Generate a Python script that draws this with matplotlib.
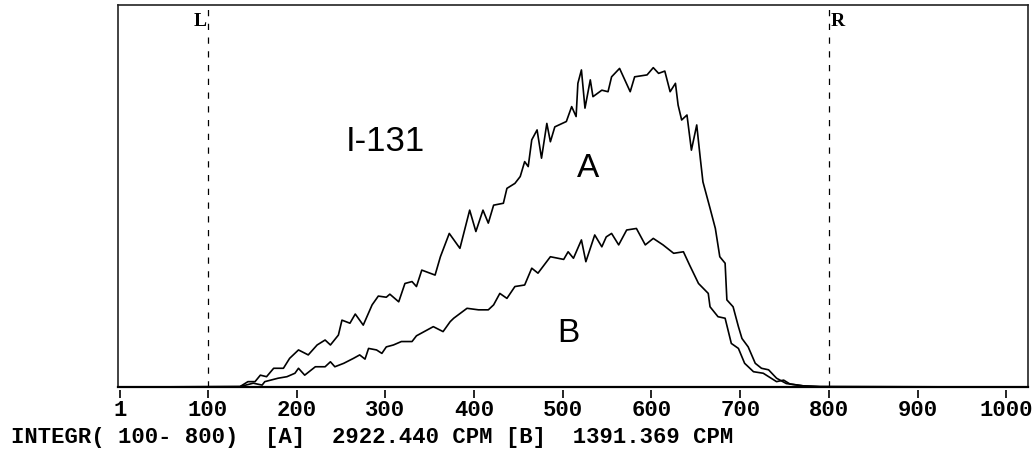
import numpy as np
import matplotlib.pyplot as plt

# I-131 spectra, channel vs counts (arbitrary units)
chan_a = [0, 136, 145, 153, 159, 166, 174, 185, 192, 202, 213, 223, 232, 238, 247, 251, 260, 266, 275, 285,
          292, 301, 305, 315, 322, 330, 335, 341, 356, 362, 372, 384, 395, 402, 410, 416, 422, 433, 437, 446,
          452, 457, 461, 465, 471, 476, 482, 486, 491, 504, 510, 515, 517, 521, 525, 531, 534, 544, 551, 555,
          564, 576, 581, 595, 602, 608, 615, 621, 627, 630, 634, 640, 645, 651, 655, 658, 666, 672, 677, 683,
          685, 692, 698, 702, 709, 717, 724, 732, 741, 752, 771, 790, 1024]
cnt_a = [0, 0.1, 1.4, 1.4, 3.1, 2.7, 4.9, 4.9, 7.5, 9.7, 8.4, 11.0, 12.3, 11.0, 13.6, 17.5, 16.7, 19.1, 16.2, 21.5,
         23.8, 23.5, 24.3, 22.3, 27.1, 27.6, 26.3, 30.6, 29.3, 34.1, 40.2, 36.3, 46.3, 40.7, 46.3, 42.9, 47.6, 48.1, 52.0, 53.3,
         55.1, 59.0, 57.7, 64.7, 67.3, 59.9, 69.0, 64.2, 68.1, 69.5, 73.4, 70.8, 79.5, 83.0, 73.0, 80.4, 76.0, 77.7, 77.3, 81.2,
         83.4, 77.3, 81.2, 81.7, 83.6, 82.1, 82.7, 77.3, 79.5, 73.8, 69.9, 71.2, 62.0, 68.6, 59.9, 53.7, 46.8, 41.5, 34.1, 32.4,
         22.8, 21.0, 15.8, 12.7, 10.5, 6.2, 4.9, 4.5, 2.3, 0.9, 0.3, 0.1, 0]

chan_b = [0, 136, 151, 161, 164, 179, 189, 198, 202, 209, 221, 232, 238, 243, 253, 264, 271, 277, 281, 290,
          296, 301, 309, 318, 330, 335, 354, 365, 373, 377, 392, 405, 416, 422, 429, 437, 446, 457, 465, 472,
          486, 501, 506, 512, 521, 526, 536, 544, 549, 555, 563, 572, 583, 593, 602, 613, 625, 636, 643, 653,
          664, 666, 675, 683, 690, 698, 705, 715, 726, 741, 749, 756, 771, 790, 1024]
cnt_b = [0, 0.1, 1.0, 0.5, 1.4, 2.3, 2.7, 3.6, 4.9, 3.1, 5.3, 5.3, 6.6, 5.3, 6.2, 7.5, 8.4, 7.3, 10.1, 9.7,
         8.8, 10.5, 11.0, 11.9, 11.9, 13.4, 15.8, 14.5, 17.1, 18.0, 20.6, 20.2, 20.2, 21.5, 24.5, 23.2, 26.3, 26.7, 31.1, 29.8,
         34.1, 33.4, 35.4, 33.7, 38.5, 32.8, 39.8, 36.7, 39.3, 40.2, 37.2, 41.1, 41.5, 37.2, 38.9, 37.2, 35.0, 35.4, 31.9, 27.1,
         24.5, 21.0, 18.4, 18.0, 11.4, 10.1, 6.2, 4.0, 3.6, 1.4, 1.8, 0.8, 0.3, 0.1, 0]

ticks = [1, 100, 200, 300, 400, 500, 600, 700, 800, 900, 1000]
roi = (100, 800)  # L / R markers
summary = "INTEGR( 100- 800)  [A]  2922.440 CPM [B]  1391.369 CPM"

W, H = 1034, 459
fig = plt.figure(figsize=(W / 100, H / 100), dpi=100)
ax = fig.add_axes([118 / W, 72 / H, 910 / W, 382 / H])

ax.plot(chan_a, cnt_a, color="black", lw=1.2)
ax.plot(chan_b, cnt_b, color="black", lw=1.2)

for x in roi:
    ax.axvline(x, color="black", lw=0.9, linestyle=(0, (5, 6)))
ax.text(roi[0] - 2, 98, "L", ha="right", va="top", fontsize=14, fontweight="bold",
        family="Liberation Serif")
ax.text(roi[1] + 2, 98, "R", ha="left", va="top", fontsize=14, fontweight="bold",
        family="Liberation Serif")

ax.text(300, 64.3, "I-131", ha="center", va="center", fontsize=25, family="Liberation Sans")
ax.text(528, 57.3, "A", ha="center", va="center", fontsize=24, family="Liberation Sans")
ax.text(506, 13.9, "B", ha="center", va="center", fontsize=24, family="Liberation Sans")

ax.set_xlim(-1.5, 1024.5)
ax.set_ylim(0, 100)
ax.set_yticks([])
ax.tick_params(bottom=False, labelbottom=False)
for s in ax.spines.values():
    s.set_linewidth(1.2)
    s.set_color("#222222")
ax.spines["bottom"].set_linewidth(1.6)
ax.spines["bottom"].set_color("black")

# ticks sit slightly below the frame
sec = ax.secondary_xaxis(-3 / 382)
sec.spines["bottom"].set_visible(False)
sec.set_xticks(ticks)
sec.set_xticklabels([str(t) for t in ticks])
sec.tick_params(direction="out", length=5.5, width=1.2, pad=2, labelsize=16)
for lab in sec.get_xticklabels():
    lab.set_family("Liberation Mono")
    lab.set_fontweight("bold")

fig.text(11 / W, 1 - 438 / H, summary, ha="left", va="center", fontsize=16,
         family="Liberation Mono", fontweight="bold")

fig.savefig("out.png", dpi=100)
